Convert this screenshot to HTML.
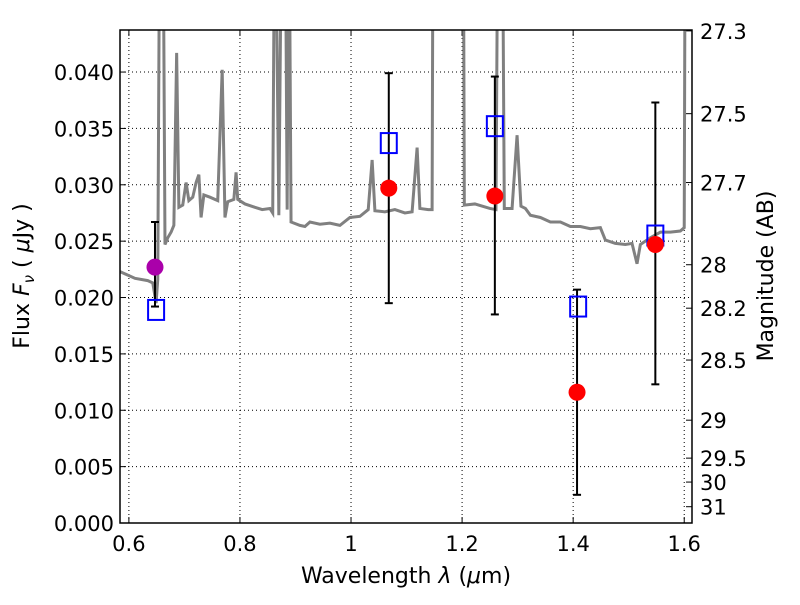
<!DOCTYPE html>
<html><head><meta charset="utf-8"><style>
body{margin:0;background:#fff}
svg text{font-family:"DejaVu Sans","Liberation Sans",sans-serif;fill:#000}
</style></head><body>
<svg id="chart" width="800" height="600" viewBox="0 0 800 600" xmlns="http://www.w3.org/2000/svg"></svg>
<script>
const specLam=[0.584,0.593,0.611,0.634,0.643,0.649,0.652,0.656,0.661,0.665,0.670,0.676,0.681,0.686,0.690,0.697,0.703,0.708,0.715,0.721,0.726,0.730,0.735,0.746,0.760,0.768,0.773,0.778,0.789,0.793,0.796,0.809,0.827,0.840,0.854,0.859,0.863,0.870,0.876,0.881,0.885,0.888,0.892,0.908,0.917,0.926,0.944,0.962,0.980,0.998,1.016,1.031,1.038,1.043,1.061,1.079,1.097,1.110,1.119,1.124,1.139,1.146,1.148,1.202,1.204,1.223,1.250,1.261,1.265,1.272,1.276,1.290,1.299,1.306,1.314,1.323,1.341,1.359,1.377,1.395,1.413,1.431,1.449,1.458,1.476,1.494,1.506,1.515,1.521,1.539,1.557,1.575,1.593,1.600,1.602,1.614];
const specFlux=[0.0223,0.0221,0.0217,0.0215,0.0213,0.0195,0.0216,0.06,0.06,0.0247,0.0253,0.0258,0.0264,0.0417,0.0280,0.0282,0.0302,0.0286,0.0289,0.0302,0.0309,0.0271,0.0291,0.0289,0.0286,0.0402,0.0271,0.0285,0.0287,0.0311,0.0287,0.0283,0.0280,0.0278,0.0279,0.0275,0.06,0.0273,0.06,0.06,0.0278,0.06,0.0267,0.0264,0.0263,0.0267,0.0265,0.0266,0.0264,0.0271,0.0272,0.0278,0.0322,0.0277,0.0276,0.0278,0.0275,0.0276,0.0333,0.0279,0.0278,0.0278,0.06,0.06,0.0282,0.0283,0.0279,0.0278,0.06,0.06,0.0279,0.0279,0.0344,0.0281,0.0279,0.0273,0.0271,0.0267,0.0267,0.0263,0.0263,0.0261,0.0262,0.0251,0.0248,0.0247,0.0248,0.0230,0.0247,0.0253,0.0258,0.0258,0.0259,0.0262,0.06,0.06];
const obsLam=[1.068,1.259,1.407,1.548];
const obsFlux=[0.0297,0.0290,0.0116,0.0247];
const obsHi=[0.0399,0.0396,0.0207,0.0373];
const obsLo=[0.0195,0.0185,0.0025,0.0123];
const magLam=[0.647], magFlux=[0.0227], magHi=[0.0267], magLo=[0.0192];
const modLam=[0.649,1.068,1.259,1.409,1.548];
const modFlux=[0.0189,0.0337,0.0352,0.0192,0.0255];
const xTicks=[0.6,0.8,1.0,1.2,1.4,1.6], xTickLabels=["0.6","0.8","1","1.2","1.4","1.6"];
const yTicks=[0,0.005,0.01,0.015,0.02,0.025,0.03,0.035,0.04];
const yTickLabels=["0.000","0.005","0.010","0.015","0.020","0.025","0.030","0.035","0.040"];
const magTicks=[27.3,27.5,27.7,28,28.2,28.5,29,29.5,30,31];
const magTickLabels=["27.3","27.5","27.7","28","28.2","28.5","29","29.5","30","31"];

const L=120,R=692,T=30,B=523, xmin=0.584,xmax=1.614,ymin=0,ymax=0.04373;
const sx=v=>L+(v-xmin)/(xmax-xmin)*(R-L);
const sy=v=>B-(v-ymin)/(ymax-ymin)*(B-T);
const NS="http://www.w3.org/2000/svg", svg=document.getElementById('chart');
function mk(tag,attrs,parent){const e=document.createElementNS(NS,tag);for(const k in attrs)e.setAttribute(k,attrs[k]);(parent||svg).appendChild(e);return e;}
const defs=mk('defs',{});const cp=mk('clipPath',{id:'cp'},defs);mk('rect',{x:L,y:T,width:R-L,height:B-T},cp);
xTicks.forEach((t,i)=>{const x=sx(t);
 const g=mk('line',{x1:x,x2:x,y1:T,y2:B,stroke:'#000','stroke-dasharray':'1,3','stroke-width':1});
 
 mk('line',{x1:x,x2:x,y1:B,y2:B-6,stroke:'#000'});mk('line',{x1:x,x2:x,y1:T,y2:T+6,stroke:'#000'});
 const tx=mk('text',{x:x,y:B+28,'text-anchor':'middle','font-size':21});tx.textContent=xTickLabels[i];
 });
yTicks.forEach((t,i)=>{const y=sy(t);
 const g=mk('line',{x1:L,x2:R,y1:y,y2:y,stroke:'#000','stroke-dasharray':'1,3','stroke-width':1});
 
 mk('line',{x1:L,x2:L+6,y1:y,y2:y,stroke:'#000'});
 const tx=mk('text',{x:L-6,y:y+8,'text-anchor':'end','font-size':21});tx.textContent=yTickLabels[i];
 });
magTicks.forEach((m,i)=>{const y=sy(Math.pow(10,(23.9-m)/2.5));
 mk('line',{x1:R,x2:R-6,y1:y,y2:y,stroke:'#000'});
 const tx=mk('text',{x:R+8,y:y+8,'font-size':21});tx.textContent=magTickLabels[i];
 });
const sp=mk('polyline',{points:specLam.map((l,i)=>sx(l)+','+sy(specFlux[i])).join(' '),fill:'none',stroke:'#808080','stroke-width':3,'clip-path':'url(#cp)'});

function errbar(l,hi,lo){const x=sx(l);mk('line',{x1:x,x2:x,y1:sy(hi),y2:sy(lo),stroke:'#000','stroke-width':2});
 mk('line',{x1:x-4,x2:x+4,y1:sy(hi),y2:sy(hi),stroke:'#000','stroke-width':2});
 mk('line',{x1:x-4,x2:x+4,y1:sy(lo),y2:sy(lo),stroke:'#000','stroke-width':2});}
magLam.forEach((l,i)=>errbar(l,magHi[i],magLo[i]));
obsLam.forEach((l,i)=>errbar(l,obsHi[i],obsLo[i]));
modLam.forEach((l,i)=>{const r=mk('rect',{x:sx(l)-8,y:sy(modFlux[i])-10,width:16,height:20,fill:'none',stroke:'#0000ff','stroke-width':2});
 });
magLam.forEach((l,i)=>{const c=mk('circle',{cx:sx(l),cy:sy(magFlux[i]),r:8.5,fill:'#aa00aa'});
 });
obsLam.forEach((l,i)=>{const c=mk('circle',{cx:sx(l),cy:sy(obsFlux[i]),r:8.5,fill:'#ff0000'});
 });
const fr=mk('rect',{x:L,y:T,width:R-L,height:B-T,fill:'none',stroke:'#000','stroke-width':1.5});

const xl=mk('text',{x:406,y:583,'text-anchor':'middle','font-size':22});
xl.innerHTML='Wavelength  <tspan font-style="italic">λ</tspan> (<tspan font-style="italic">μ</tspan>m)';

const yl=mk('text',{x:0,y:0,'text-anchor':'middle','font-size':22,transform:'translate(29,276) rotate(-90)'});
yl.innerHTML='Flux  <tspan font-style="italic">F</tspan><tspan font-style="italic" font-size="15" dy="5">ν</tspan><tspan dy="-5">  (  </tspan><tspan font-style="italic">μ</tspan>Jy )';

const rl=mk('text',{x:0,y:0,'text-anchor':'middle','font-size':22,transform:'translate(773,276) rotate(-90)'});
rl.textContent='Magnitude (AB)';

</script>
</body></html>
